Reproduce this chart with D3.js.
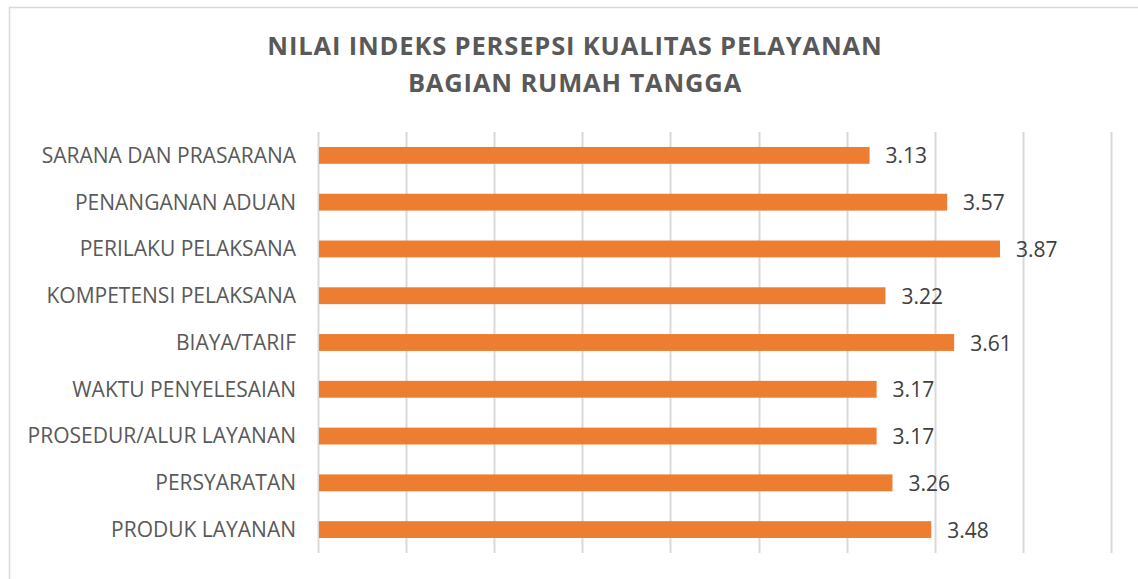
<!DOCTYPE html>
<html>
<head>
<meta charset="utf-8">
<script src="https://cdn.jsdelivr.net/npm/d3@7"></script>
<style>
  html, body { margin: 0; padding: 0; background: #fff; }
  svg { display: block; }
</style>
</head>
<body>
<div id="chart"></div>
<script>
// data, top to bottom
const categories = [
  'SARANA DAN PRASARANA',
  'PENANGANAN ADUAN',
  'PERILAKU PELAKSANA',
  'KOMPETENSI PELAKSANA',
  'BIAYA/TARIF',
  'WAKTU PENYELESAIAN',
  'PROSEDUR/ALUR LAYANAN',
  'PERSYARATAN',
  'PRODUK LAYANAN',
];
const values = [3.13, 3.57, 3.87, 3.22, 3.61, 3.17, 3.17, 3.26, 3.48];
const xTicks = [0, 0.5, 1, 1.5, 2, 2.5, 3, 3.5, 4, 4.5];
const titleLines = ['NILAI INDEKS PERSEPSI KUALITAS PELAYANAN', 'BAGIAN RUMAH TANGGA'];

const width = 1138;
const height = 579;
const margin = { top: 132, right: 27, bottom: 26, left: 318 };

const svg = d3.select('#chart')
  .append('svg')
  .attr('width', width)
  .attr('height', height);

// chart area border (extends past the right / bottom edge)
svg.append('rect')
  .attr('x', 9.5)
  .attr('y', 7.5)
  .attr('width', width + 20)
  .attr('height', height + 20)
  .attr('fill', 'none')
  .attr('stroke', '#d9d9d9')
  .attr('stroke-width', 1.5);

const x = d3.scaleLinear()
  .domain([0, 4.5])
  .range([margin.left, width - margin.right]);

const y = d3.scaleBand()
  .domain(categories)
  .range([margin.top, height - margin.bottom])
  .paddingInner(0.64)
  .paddingOuter(0.32);

// vertical gridlines
svg.append('g')
  .selectAll('line')
  .data(xTicks)
  .enter()
  .append('line')
  .attr('x1', (d) => Math.round(x(d)) + 0.5)
  .attr('x2', (d) => Math.round(x(d)) + 0.5)
  .attr('y1', margin.top)
  .attr('y2', height - margin.bottom)
  .attr('stroke', '#d9d9d9')
  .attr('stroke-width', 2);

// bars
svg.append('g')
  .selectAll('rect')
  .data(values)
  .enter()
  .append('rect')
  .attr('x', x(0) + 1)
  .attr('y', (d, i) => y(categories[i]))
  .attr('width', (d) => x(d) - x(0) - 1)
  .attr('height', y.bandwidth())
  .attr('fill', '#ed7d31');

// value labels
svg.append('g')
  .selectAll('text')
  .data(values)
  .enter()
  .append('text')
  .attr('x', (d) => x(d) + 16)
  .attr('y', (d, i) => y(categories[i]) + y.bandwidth() / 2 + 8)
  .attr('font-family', '"Open Sans", sans-serif')
  .attr('font-size', 21)
  .attr('fill', '#404040')
  .text((d) => d.toFixed(2));

// category axis labels
const yAxis = d3.axisLeft(y).tickSize(0).tickPadding(22);
const gy = svg.append('g')
  .attr('transform', `translate(${margin.left},0)`)
  .call(yAxis);
gy.select('.domain').remove();
gy.selectAll('text')
  .attr('font-family', '"Open Sans", sans-serif')
  .attr('font-size', 21)
  .attr('fill', '#595959')
  .attr('dy', '0.35em');

// title
svg.append('g')
  .selectAll('text')
  .data(titleLines)
  .enter()
  .append('text')
  .attr('x', 575)
  .attr('y', (d, i) => 55 + i * 37)
  .attr('text-anchor', 'middle')
  .attr('font-family', '"Open Sans", sans-serif')
  .attr('font-weight', 'bold')
  .attr('font-size', 25.5)
  .attr('letter-spacing', 0.85)
  .attr('fill', '#595959')
  .text((d) => d);
</script>
</body>
</html>
